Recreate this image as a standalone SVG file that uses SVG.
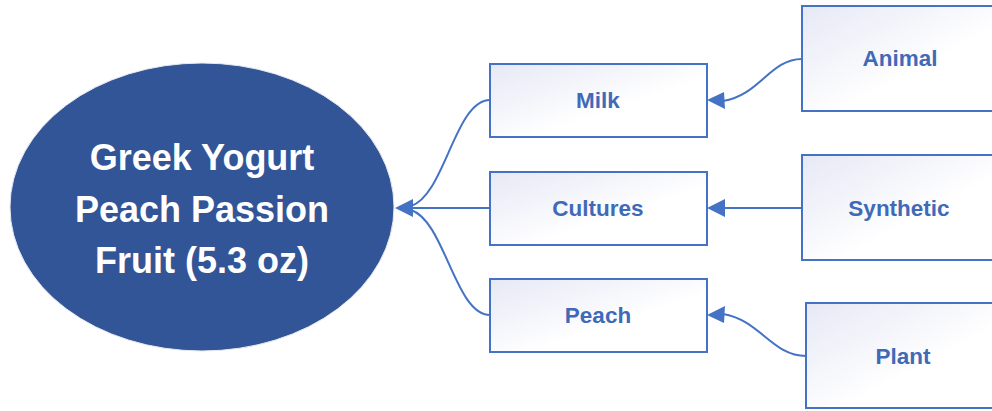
<svg xmlns="http://www.w3.org/2000/svg" width="992" height="411" viewBox="0 0 992 411">
<style>
.box{fill:url(#g);stroke:#4472C4;stroke-width:2}
.lbl{font-family:"Liberation Sans",Arial,sans-serif;font-weight:bold;font-size:22.5px;fill:#3F6AB8;text-anchor:middle}
.big{font-family:"Liberation Sans",Arial,sans-serif;font-weight:bold;font-size:36px;fill:#FFFFFF;text-anchor:middle}
.c{fill:none;stroke:#4472C4;stroke-width:2}
.ah{fill:#4472C4}
</style>
<defs>
<linearGradient id="g" x1="0" y1="0" x2="1" y2="1">
<stop offset="0" stop-color="#E6E8F5"/>
<stop offset="0.6" stop-color="#FFFFFF"/>
<stop offset="1" stop-color="#FFFFFF"/>
</linearGradient>
</defs>
<g id="connectors">
<path class="c" d="M490,100 C455,100 445,195 411,206"/>
<path class="c" d="M490,208 L411,208"/>
<path class="c" d="M490,315 C455,315 445,221 411,210"/>
<polygon class="ah" points="395,208 413,199 413,217"/>
<path class="c" d="M802,59 C770,59 760,95 723,101"/>
<polygon class="ah" points="707,100 724,92 725,109"/>
<path class="c" d="M802,208 L723,208"/>
<polygon class="ah" points="707,208 725,199 725,217"/>
<path class="c" d="M806,356 C772,356 760,320 723,314"/>
<polygon class="ah" points="707,315 725,306 724,323"/>
</g>
<g id="center">
<ellipse cx="202" cy="207" rx="192" ry="144" fill="#325597" stroke="#E6E8F0" stroke-width="1"/>
<text class="big" x="202" y="170">Greek Yogurt</text>
<text class="big" x="202" y="222">Peach Passion</text>
<text class="big" x="202" y="273">Fruit (5.3 oz)</text>
</g>
<g id="milk"><rect class="box" x="490" y="64" width="217" height="73"/><text class="lbl" x="598" y="108">Milk</text></g>
<g id="cultures"><rect class="box" x="490" y="172" width="217" height="73"/><text class="lbl" x="598" y="216">Cultures</text></g>
<g id="peach"><rect class="box" x="490" y="279" width="217" height="73"/><text class="lbl" x="598" y="323">Peach</text></g>
<g id="animal"><rect class="box" x="802" y="6" width="196" height="105"/><text class="lbl" x="900" y="66">Animal</text></g>
<g id="synthetic"><rect class="box" x="802" y="155" width="196" height="105"/><text class="lbl" x="899" y="216">Synthetic</text></g>
<g id="plant"><rect class="box" x="806" y="303" width="196" height="105"/><text class="lbl" x="903" y="364">Plant</text></g>
</svg>
